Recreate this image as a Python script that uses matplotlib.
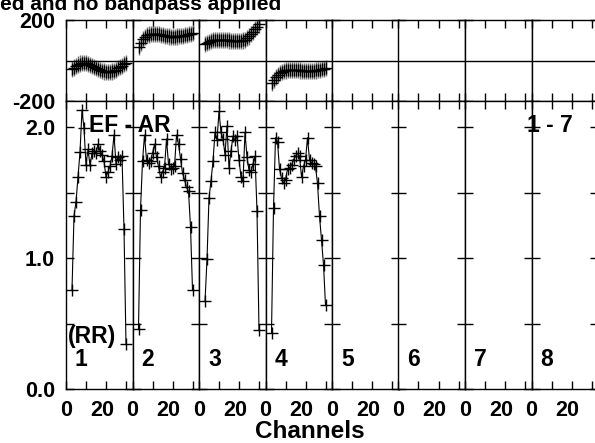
import numpy as np
import matplotlib
matplotlib.use('Agg')
import matplotlib.pyplot as plt
from matplotlib.transforms import ScaledTranslation

plt.rcParams['font.family'] = ['Liberation Sans', 'DejaVu Sans']
plt.rcParams['font.weight'] = 'bold'

# channels with data (same for panels 1-4)
chan = np.arange(3, 31)

amp1 = [0.76, 1.32, 1.43, 1.62, 1.81, 2.13, 1.99, 1.71, 1.83, 1.71, 1.80, 1.82, 1.80, 1.87,
        1.82, 1.79, 1.74, 1.62, 1.66, 1.70, 1.78, 1.94, 1.72, 1.77, 1.75, 1.78, 1.22, 0.34]
amp2 = [0.46, 1.37, 1.74, 1.94, 1.75, 1.73, 1.74, 1.80, 1.87, 1.77, 1.70, 1.62, 1.66, 1.69,
        1.91, 1.72, 1.68, 1.69, 1.70, 1.94, 1.87, 1.76, 1.65, 1.60, 1.54, 1.51, 1.24, 0.76]
amp3 = [0.67, 0.99, 1.46, 1.59, 1.74, 1.96, 1.90, 2.12, 1.96, 1.91, 1.79, 2.01, 1.69, 1.82,
        1.93, 1.90, 1.93, 1.75, 1.62, 1.59, 1.96, 1.77, 1.67, 1.66, 1.72, 1.78, 1.36, 0.45]
amp4 = [0.43, 1.38, 1.92, 1.89, 1.68, 1.61, 1.57, 1.60, 1.68, 1.69, 1.71, 1.75, 1.78, 1.80,
        1.78, 1.62, 1.70, 1.75, 1.92, 1.75, 1.73, 1.72, 1.70, 1.57, 1.32, 1.14, 0.95, 0.64]

ph1 = [-43, -35, -27, -20, -15, -12, -11, -13, -17, -22, -28, -33, -38, -43,
       -47, -51, -54, -56, -57, -56, -54, -50, -45, -39, -33, -26, -19, -12]
ph2 = [68, 88, 105, 116, 124, 128, 131, 132, 132, 131, 129, 127, 124, 122,
       120, 119, 118, 118, 118, 119, 120, 121, 122, 124, 126, 129, 132, 135]
ph3 = [80, 86, 92, 97, 100, 102, 103, 103, 103, 102, 101, 100, 99, 98,
       97, 96, 96, 96, 97, 99, 103, 110, 119, 130, 142, 155, 167, 178]
ph4 = [-112, -95, -80, -70, -62, -56, -52, -49, -47, -46, -46, -46, -47, -48,
       -49, -50, -51, -52, -53, -53, -52, -51, -49, -47, -45, -42, -40, -38]
ph_err = [40, 40, 40, 40]

amps = [amp1, amp2, amp3, amp4]
phases = [ph1, ph2, ph3, ph4]
panel_names = ['1', '2', '3', '4', '5', '6', '7', '8']

W, H = 595, 443
fig = plt.figure(figsize=(W / 100, H / 100), dpi=100)

x0 = 66
pw = 66.5
amp_top, amp_bot = 101, 389
ph_top = 20

fs = 15.5
lfs = 16.5

shift20 = ScaledTranslation(-4 / 100, 0, fig.dpi_scale_trans)

for i in range(8):
    left = (x0 + i * pw) / W
    # phase panel
    axp = fig.add_axes([left, (H - amp_top) / H, pw / W, (amp_top - ph_top) / H])
    # amplitude panel
    axa = fig.add_axes([left, (H - amp_bot) / H, pw / W, (amp_bot - amp_top) / H])

    if i < 4:
        axp.errorbar(chan, phases[i], yerr=ph_err[i], fmt='+', color='black', ms=8, mew=1,
                     ecolor='0.45', elinewidth=1, capsize=0)
        axa.plot(chan, amps[i], color='black', lw=0.8, marker='+', ms=8.5, mew=1)

    axp.axhline(0, color='black', lw=1)
    axp.set_xlim(0, 33.25)
    axp.set_ylim(-200, 200)
    axa.set_xlim(0, 33.25)
    axa.set_ylim(0, 2.2)

    for ax in (axp, axa):
        for s in ax.spines.values():
            s.set_linewidth(1)
        ax.tick_params(direction='in', top=True, right=True, length=5.5, width=1,
                       labelsize=fs, pad=8)
        ax.set_xticks([0, 10, 20, 30])

    axp.set_xticklabels([])
    axp.set_yticks([-200, 200])
    axa.set_yticks([0, 0.5, 1.0, 1.5, 2.0])
    axa.set_xticklabels(['0', '', '20', ''])
    lab = axa.get_xticklabels()[2]
    lab.set_transform(lab.get_transform() + shift20)
    if i == 0:
        axp.set_yticklabels(['-200', '200'])
        axa.set_yticklabels(['0.0', '', '1.0', '', '2.0'])
    else:
        axp.set_yticklabels([])
        axa.set_yticklabels([])

    fig.text((left * W + 9) / W, (H - 359.5) / H, panel_names[i], fontsize=lfs,
             ha='left', va='center')

fig.text(68 / W, (H - 336) / H, '(RR)', fontsize=lfs, ha='left', va='center')
fig.text(89 / W, (H - 126) / H, 'EF - AR', fontsize=lfs, ha='left', va='center')
fig.text(573 / W, (H - 126) / H, '1 - 7', fontsize=lfs, ha='right', va='center')
fig.text(310 / W, (H - 432) / H, 'Channels', fontsize=17.5, ha='center', va='center')
# title is partly cut off at the top, as in the original plot
fig.text(281 / W, (H - 10) / H, 'ed and no bandpass applied', fontsize=15, ha='right',
         va='baseline')

fig.savefig('out.png', dpi=100)
